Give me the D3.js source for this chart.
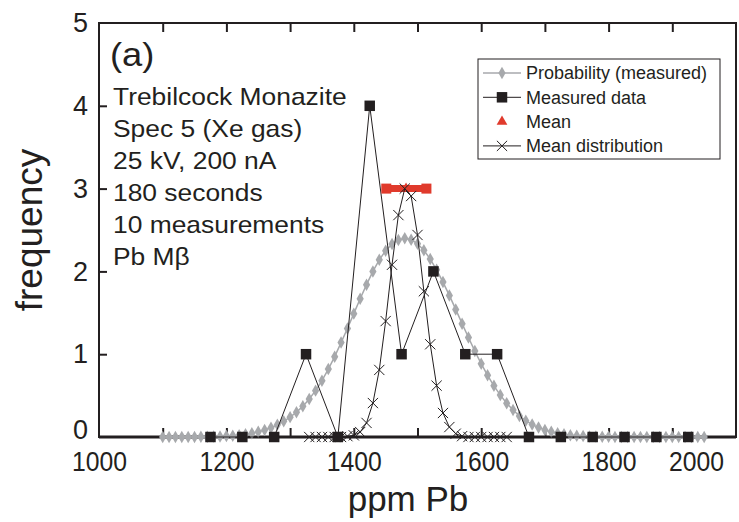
<!DOCTYPE html>
<html>
<head>
<meta charset="utf-8">
<script src="https://cdn.jsdelivr.net/npm/d3@7"></script>
<style>
  body { margin: 0; background: #fff; }
  svg text { font-family: "Liberation Sans", Arial, Helvetica, sans-serif; fill: #231f20; }
</style>
</head>
<body>
<svg id="chart_svg" width="739" height="522"></svg>
<script>
// ticks
const xTickLabels = [1000, 1200, 1400, 1600, 1800, 2000];
const xInnerTicks = [1100, 1200, 1300, 1400, 1500, 1600, 1700, 1800, 1900];
const yTickLabels = [0, 1, 2, 3, 4, 5];
const yInnerTicks = [1, 2, 3, 4];

// probability (measured), grey curve
const probX = [1100, 1110, 1120, 1130, 1140, 1150, 1160, 1170, 1180, 1190,
  1200, 1210, 1220, 1230, 1240, 1250, 1260, 1270, 1280, 1290,
  1300, 1310, 1320, 1330, 1340, 1350, 1360, 1370, 1380, 1390,
  1400, 1410, 1420, 1430, 1440, 1450, 1460, 1470, 1480, 1490,
  1500, 1510, 1520, 1530, 1540, 1550, 1560, 1570, 1580, 1590,
  1600, 1610, 1620, 1630, 1640, 1650, 1660, 1670, 1680, 1690,
  1700, 1710, 1720, 1730, 1740, 1750, 1760, 1770, 1780, 1790,
  1800, 1810, 1820, 1830, 1840, 1850, 1860, 1870, 1880, 1890,
  1900, 1910, 1920, 1930, 1940, 1950];
const probY = [0, 0, 0, 0, 0.001, 0.001, 0.002, 0.003, 0.005, 0.007,
  0.011, 0.015, 0.022, 0.032, 0.045, 0.062, 0.084, 0.112, 0.148, 0.19,
  0.24, 0.3, 0.37, 0.46, 0.56, 0.68, 0.82, 0.97, 1.14, 1.31,
  1.49, 1.67, 1.84, 2.0, 2.14, 2.25, 2.33, 2.38, 2.4, 2.383,
  2.334, 2.255, 2.149, 2.019, 1.871, 1.71, 1.541, 1.369, 1.201, 1.038,
  0.885, 0.745, 0.618, 0.506, 0.408, 0.325, 0.255, 0.197, 0.151, 0.114,
  0.084, 0.062, 0.045, 0.032, 0.022, 0.015, 0.011, 0.007, 0.005, 0.003,
  0.002, 0.001, 0.001, 0, 0, 0, 0, 0, 0, 0,
  0, 0, 0, 0, 0, 0];

// measured data (histogram counts)
const measX = [1175, 1225, 1275, 1325, 1375, 1425, 1475, 1525, 1575, 1625,
  1675, 1725, 1775, 1825, 1875, 1925];
const measY = [0, 0, 0, 1, 0, 4, 1, 2, 1, 1, 0, 0, 0, 0, 0, 0];

// mean and its spread
const meanX = [1482];
const meanRange = [1451, 1514];
const meanY = [3];

// mean distribution
const distX = [1330, 1340, 1350, 1360, 1370, 1380, 1390, 1400, 1410, 1420,
  1430, 1440, 1450, 1460, 1470, 1480, 1490, 1500, 1510, 1520,
  1530, 1540, 1550, 1560, 1570, 1580, 1590, 1600, 1610, 1620,
  1630, 1640];
const distY = [0, 0, 0, 0, 0, 0, 0.01, 0.02, 0.06, 0.17,
  0.41, 0.81, 1.4, 2.08, 2.68, 3.0, 2.91, 2.44, 1.76, 1.12,
  0.62, 0.29, 0.12, 0.04, 0.01, 0, 0, 0, 0, 0,
  0, 0];

const infoLines = ["Trebilcock Monazite", "Spec 5 (Xe gas)", "25 kV, 200 nA",
  "180 seconds", "10 measurements", "Pb M\u03b2"];
const legendNames = ["Probability (measured)", "Measured data", "Mean", "Mean distribution"];

const ink = "#231f20";
const grey = "#a7a9ac";
const red = "#e03a2c";

var margin = { top: 23, left: 99, right: 3, bottom: 85 };
var width = 739 - margin.left - margin.right;
var height = 522 - margin.top - margin.bottom;

var svg = d3.select("#chart_svg");

var x = d3.scaleLinear().domain([1000, 2000]).range([margin.left, margin.left + width]);
var y = d3.scaleLinear().domain([0, 5]).range([margin.top + height, margin.top]);

function zip(xs, ys) {
  return xs.map(function (d, i) { return { x: d, y: ys[i] }; });
}

var line = d3.line()
  .x(function (d) { return x(d.x); })
  .y(function (d) { return y(d.y); });

// frame
svg.append("rect")
  .attr("x", margin.left)
  .attr("y", margin.top)
  .attr("width", width)
  .attr("height", height)
  .attr("fill", "none")
  .attr("stroke", ink)
  .attr("stroke-width", 2);

// top ticks, pointing in
svg.append("g")
  .attr("transform", "translate(0," + margin.top + ")")
  .call(d3.axisBottom(x).tickValues(xInnerTicks).tickSize(9).tickFormat(""))
  .call(function (g) { g.select(".domain").remove(); })
  .selectAll("line").attr("stroke", ink).attr("stroke-width", 2);

// bottom ticks, pointing in
svg.append("g")
  .attr("transform", "translate(0," + (margin.top + height) + ")")
  .call(d3.axisTop(x).tickValues(xInnerTicks).tickSize(9).tickFormat(""))
  .call(function (g) { g.select(".domain").remove(); })
  .selectAll("line").attr("stroke", ink).attr("stroke-width", 2);

// bottom labels
var xAxis = svg.append("g")
  .attr("transform", "translate(0," + (margin.top + height) + ")")
  .call(d3.axisBottom(x).tickValues(xTickLabels).tickSize(0).tickPadding(14).tickFormat(d3.format("d")));
xAxis.select(".domain").remove();
xAxis.selectAll("text")
  .attr("font-size", 28)
  .attr("font-family", "Liberation Sans, Arial, sans-serif")
  .attr("fill", ink)
  .attr("textLength", 55)
  .attr("lengthAdjust", "spacingAndGlyphs");
// last label sits inside the frame
xAxis.selectAll("text").filter(function (d) { return d === 2000; }).attr("dx", -40);

// left ticks, pointing in
svg.append("g")
  .attr("transform", "translate(" + margin.left + ",0)")
  .call(d3.axisRight(y).tickValues(yInnerTicks).tickSize(8).tickFormat(""))
  .call(function (g) { g.select(".domain").remove(); })
  .selectAll("line").attr("stroke", ink).attr("stroke-width", 2);

var yAxis = svg.append("g")
  .attr("transform", "translate(" + margin.left + ",0)")
  .call(d3.axisLeft(y).tickValues(yTickLabels).tickSize(0).tickPadding(11).tickFormat(d3.format("d")));
yAxis.select(".domain").remove();
yAxis.selectAll("text")
  .attr("font-size", 27)
  .attr("font-family", "Liberation Sans, Arial, sans-serif")
  .attr("fill", ink);
// keep the zero clear of the 1000 below it
yAxis.selectAll("text").filter(function (d) { return d === 0; }).attr("dy", "0.06em");

// thicker bottom axis line
svg.append("line")
  .attr("x1", margin.left).attr("x2", margin.left + width)
  .attr("y1", y(0)).attr("y2", y(0))
  .attr("stroke", ink).attr("stroke-width", 3);

// axis titles
svg.append("text")
  .attr("transform", "translate(42," + (margin.top + height / 2) + ") rotate(-90)")
  .attr("text-anchor", "middle")
  .attr("font-size", 37)
  .text("frequency");

svg.append("text")
  .attr("x", 408)
  .attr("y", 511)
  .attr("text-anchor", "middle")
  .attr("font-size", 35)
  .text("ppm Pb");

// grey probability curve
var probData = zip(probX, probY);
svg.append("path")
  .datum(probData)
  .attr("fill", "none")
  .attr("stroke", grey)
  .attr("stroke-width", 1.5)
  .attr("d", line);
svg.append("g").selectAll("path")
  .data(probData)
  .join("path")
  .attr("transform", function (d) { return "translate(" + x(d.x) + "," + y(d.y) + ")"; })
  .attr("d", d3.symbol(d3.symbolDiamond).size(45))
  .attr("fill", grey);

// measured data
var measData = zip(measX, measY);
svg.append("path")
  .datum(measData)
  .attr("fill", "none")
  .attr("stroke", ink)
  .attr("stroke-width", 1)
  .attr("d", line);
svg.append("g").selectAll("path")
  .data(measData)
  .join("path")
  .attr("transform", function (d) { return "translate(" + x(d.x) + "," + y(d.y) + ")"; })
  .attr("d", d3.symbol(d3.symbolSquare).size(110))
  .attr("fill", ink);

// mean bar
svg.append("line")
  .attr("x1", x(meanRange[0])).attr("x2", x(meanRange[1]))
  .attr("y1", y(meanY[0])).attr("y2", y(meanY[0]))
  .attr("stroke", red).attr("stroke-width", 7);
svg.append("g").selectAll("rect")
  .data(meanRange)
  .join("rect")
  .attr("x", function (d) { return x(d) - 5; })
  .attr("y", y(meanY[0]) - 5)
  .attr("width", 10).attr("height", 10)
  .attr("fill", red);
svg.append("path")
  .attr("transform", "translate(" + x(meanX[0]) + "," + y(meanY[0]) + ")")
  .attr("d", d3.symbol(d3.symbolTriangle).size(50))
  .attr("fill", red);

// mean distribution
var distData = zip(distX, distY);
svg.append("path")
  .datum(distData)
  .attr("fill", "none")
  .attr("stroke", ink)
  .attr("stroke-width", 1)
  .attr("d", line);
svg.append("g").selectAll("path")
  .data(distData)
  .join("path")
  .attr("transform", function (d) { return "translate(" + x(d.x) + "," + y(d.y) + ")"; })
  .attr("d", d3.symbol(d3.symbolX).size(70))
  .attr("fill", "none")
  .attr("stroke", ink)
  .attr("stroke-width", 1);

// panel text
svg.append("text")
  .attr("transform", "translate(110,66) scale(1.1,1)")
  .attr("font-size", 33)
  .text("(a)");

svg.append("g")
  .attr("transform", "translate(113,0) scale(1.1,1)")
  .selectAll("text")
  .data(infoLines)
  .join("text")
  .attr("x", 0)
  .attr("y", function (d, i) { return 105 + i * 32; })
  .attr("font-size", 24)
  .text(function (d) { return d; });

// legend
var legend = svg.append("g");
legend.append("rect")
  .attr("x", 478).attr("y", 59)
  .attr("width", 242).attr("height", 100)
  .attr("fill", "#fff")
  .attr("stroke", ink)
  .attr("stroke-width", 1);

var rows = legend.selectAll("g")
  .data(legendNames)
  .join("g")
  .attr("transform", function (d, i) { return "translate(0," + (73 + i * 24.3) + ")"; });

rows.append("text")
  .attr("x", 526)
  .attr("dy", "0.35em")
  .attr("font-size", 18)
  .text(function (d) { return d; });

rows.filter(function (d, i) { return i !== 2; })
  .append("line")
  .attr("x1", 483).attr("x2", 521)
  .attr("stroke", function (d, i) { return i === 0 ? grey : ink; })
  .attr("stroke-width", function (d, i) { return i === 0 ? 1.5 : 1; });

rows.append("path")
  .attr("transform", "translate(502,0)")
  .attr("d", function (d, i) {
    var shape = [d3.symbolDiamond, d3.symbolSquare, d3.symbolTriangle, d3.symbolX][i];
    var size = [45, 110, 50, 70][i];
    return d3.symbol(shape).size(size)();
  })
  .attr("fill", function (d, i) { return i === 0 ? grey : i === 1 ? ink : i === 2 ? red : "none"; })
  .attr("stroke", function (d, i) { return i === 3 ? ink : "none"; });
</script>
</body>
</html>
